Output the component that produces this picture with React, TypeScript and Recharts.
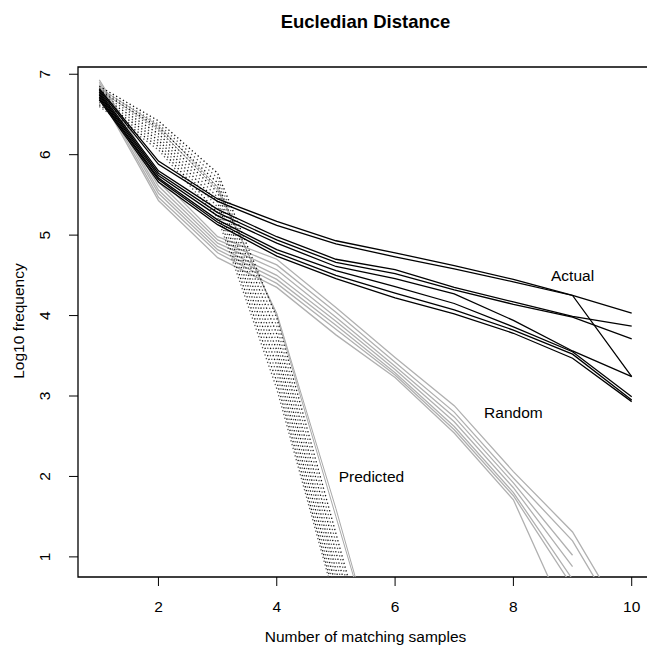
import { LineChart, Line, XAxis, YAxis, ReferenceArea, ReferenceDot } from "recharts";

const xs = [1, 2, 3, 4, 5, 6, 7, 8, 9, 10];
const xTicks = [2, 4, 6, 8, 10];
const yTicks = [1, 2, 3, 4, 5, 6, 7];

// Actual (black solid)
const actual: (number | null)[][] = [
  [6.82, 5.92, 5.45, 5.17, 4.93, 4.78, 4.62, 4.45, 4.25, 4.03],
  [6.8, 5.88, 5.42, 5.12, 4.89, 4.73, 4.58, 4.42, 4.25, 3.24],
  [6.78, 5.8, 5.32, 4.98, 4.7, 4.57, 4.35, 4.17, 3.99, 3.87],
  [6.76, 5.77, 5.28, 4.94, 4.66, 4.52, 4.32, 4.14, 3.98, 3.71],
  [6.74, 5.74, 5.24, 4.9, 4.61, 4.46, 4.27, 3.94, 3.56, 3.24],
  [6.72, 5.71, 5.19, 4.82, 4.56, 4.36, 4.15, 3.86, 3.55, 2.99],
  [6.7, 5.69, 5.16, 4.78, 4.5, 4.28, 4.07, 3.82, 3.52, 2.95],
  [6.68, 5.66, 5.13, 4.74, 4.46, 4.22, 4.02, 3.78, 3.47, 2.93],
];

// Random (grey solid)
const random: (number | null)[][] = [
  [6.93, 5.72, 4.98, 4.7, 4.1, 3.48, 2.88, 2.06, 1.31, 0.07],
  [6.9, 5.66, 4.94, 4.63, 4.04, 3.42, 2.8, 1.98, 1.2, -0.04],
  [6.87, 5.61, 4.9, 4.57, 3.98, 3.37, 2.74, 1.92, 1.02, null],
  [6.84, 5.56, 4.86, 4.5, 3.93, 3.33, 2.68, 1.86, 0.88, null],
  [6.81, 5.52, 4.82, 4.45, 3.88, 3.29, 2.62, 1.8, 0.72, null],
  [6.78, 5.47, 4.78, 4.4, 3.83, 3.26, 2.58, 1.76, 0.63, null],
  [6.75, 5.43, 4.72, 4.35, 3.76, 3.23, 2.54, 1.71, 0.08, null],
];

// Predicted (dotted)
const predicted: (number | null)[][] = [
  [6.85, 6.42, 5.77, 3.97, 1.29, -1.4],
  [6.82, 6.38, 5.71, 3.87, 1.18, -1.5],
  [6.8, 6.34, 5.65, 3.77, 1.06, -1.6],
  [6.77, 6.3, 5.59, 3.67, 0.95, -1.7],
  [6.74, 6.26, 5.53, 3.57, 0.84, -1.8],
  [6.71, 6.22, 5.47, 3.48, 0.74],
  [6.68, 6.18, 5.41, 3.38, 0.64],
  [6.65, 6.14, 5.35, 3.28, 0.55],
  [6.62, 6.1, 5.28, 3.18, 0.47],
  [6.6, 6.06, 5.22, 3.09, 0.41],
];

// two lighter predicted runs
const predictedLight: (number | null)[][] = [
  [6.83, 6.36, 5.6, 4.0, 1.5, -1.0],
  [6.8, 6.32, 5.56, 4.03, 1.6, -1.0],
];

const groupLabels = [
  { x: 9, y: 4.5, text: "Actual" },
  { x: 8, y: 2.8, text: "Random" },
  { x: 5.6, y: 2, text: "Predicted" },
];

const font = '"Liberation Sans", Arial, sans-serif';

const data = xs.map((x, i) => {
  const row: Record<string, number | null> = { x };
  actual.forEach((s, k) => (row[`a${k}`] = s[i] ?? null));
  random.forEach((s, k) => (row[`r${k}`] = s[i] ?? null));
  predicted.forEach((s, k) => (row[`p${k}`] = s[i] ?? null));
  predictedLight.forEach((s, k) => (row[`q${k}`] = s[i] ?? null));
  return row;
});

function XTick({ x, y, payload }: any) {
  return (
    <text x={x} y={y + 26} textAnchor="middle" fontSize={15.5} fontFamily={font} fill="#000">
      {payload.value}
    </text>
  );
}

function YTick({ x, y, payload }: any) {
  return (
    <text
      transform={`translate(${x - 19}, ${y}) rotate(-90)`}
      textAnchor="middle"
      fontSize={15.5}
      fontFamily={font}
      fill="#000"
    >
      {payload.value}
    </text>
  );
}

function GroupText({ cx, cy, text }: any) {
  return (
    <text x={cx} y={cy + 5.5} textAnchor="middle" fontSize={15.5} fontFamily={font} fill="#000">
      {text}
    </text>
  );
}

export default function App() {
  return (
    <div
      style={{
        position: "fixed",
        left: 0,
        top: 0,
        width: 647,
        height: 649,
        overflow: "hidden",
        background: "#fff",
        fontFamily: font,
      }}
    >
      <div
        style={{
          position: "absolute",
          left: 0,
          width: 731,
          top: 11,
          textAlign: "center",
          fontWeight: "bold",
          fontSize: 18.5,
          lineHeight: "22px",
        }}
      >
        Eucledian Distance
      </div>
      <div
        style={{
          position: "absolute",
          left: 0,
          width: 731,
          top: 627,
          textAlign: "center",
          fontSize: 15.5,
          lineHeight: "20px",
        }}
      >
        Number of matching samples
      </div>
      <div
        style={{
          position: "absolute",
          left: 19 - 100,
          top: 321 - 10,
          width: 200,
          textAlign: "center",
          fontSize: 15.5,
          lineHeight: "20px",
          transform: "rotate(-90deg)",
        }}
      >
        Log10 frequency
      </div>
      <div style={{ position: "absolute", left: 0, top: 0 }}>
        <LineChart width={670} height={649} data={data} margin={{ top: 67, right: 17, bottom: 32, left: 18 }}>
          <XAxis
            dataKey="x"
            type="number"
            domain={[0.64, 10.36]}
            ticks={xTicks}
            tick={<XTick />}
            tickSize={9}
            tickMargin={0}
            tickLine={{ stroke: "#000" }}
            axisLine={false}
            height={40}
            allowDataOverflow
          />
          <YAxis
            type="number"
            domain={[0.75, 7.09]}
            ticks={yTicks}
            tick={<YTick />}
            tickSize={9}
            tickMargin={0}
            tickLine={{ stroke: "#000" }}
            axisLine={false}
            width={60}
            allowDataOverflow
          />
          {random.map((_, k) => (
            <Line
              key={`r${k}`}
              dataKey={`r${k}`}
              type="linear"
              stroke="#b0b0b0"
              strokeWidth={1.3}
              dot={false}
              activeDot={false}
              isAnimationActive={false}
            />
          ))}
          {predictedLight.map((_, k) => (
            <Line
              key={`q${k}`}
              dataKey={`q${k}`}
              type="linear"
              stroke="#a8a8a8"
              strokeWidth={1}
              dot={false}
              activeDot={false}
              isAnimationActive={false}
            />
          ))}
          {predicted.map((_, k) => (
            <Line
              key={`p${k}`}
              dataKey={`p${k}`}
              type="linear"
              stroke={k % 2 === 0 ? "#111" : "#555"}
              strokeWidth={1.3}
              strokeDasharray="1.3 2.6"
              dot={false}
              activeDot={false}
              isAnimationActive={false}
            />
          ))}
          {actual.map((_, k) => (
            <Line
              key={`a${k}`}
              dataKey={`a${k}`}
              type="linear"
              stroke="#000"
              strokeWidth={1.3}
              dot={false}
              activeDot={false}
              isAnimationActive={false}
            />
          ))}
          <ReferenceArea x1={0.64} x2={10.36} y1={0.75} y2={7.09} fill="none" stroke="#000" strokeWidth={1.3} />
          {groupLabels.map((g) => (
            <ReferenceDot
              key={g.text}
              x={g.x}
              y={g.y}
              r={0}
              shape={(p: any) => <GroupText {...p} text={g.text} />}
            />
          ))}
        </LineChart>
      </div>
    </div>
  );
}
